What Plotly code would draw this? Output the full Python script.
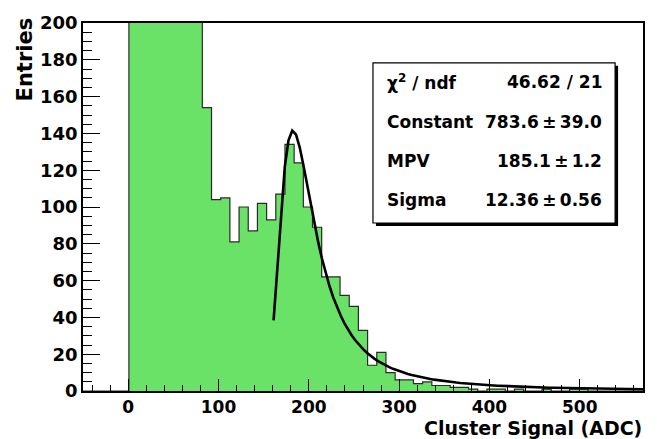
import numpy as np
import plotly.graph_objects as go

# ---- histogram data (61 bins from -50 to 570 ADC) ----
x_min, x_max, n_bins = -50.0, 570.0, 61
counts = [
    0, 0, 0, 0, 0,
    640, 1020, 990, 770, 550, 390, 280, 215,
    154, 104, 105, 81, 100, 87, 102, 93, 107, 134,
    124, 100, 89, 62, 62, 52, 46, 33, 14, 21,
    10, 6, 6, 4, 5, 3, 3, 2, 2, 1,
    0, 1, 1, 0, 1, 0, 0, 1, 0, 0,
    1, 1, 0, 0, 0, 0, 0, 0,
]

# ---- Landau fit result ----
chi2, ndf = 46.62, 21
constant, constant_err = 783.6, 39.0
mpv, mpv_err = 185.1, 1.2
sigma, sigma_err = 12.36, 0.56
fit_range = (161.0, 570.0)
fit_npx = 100

x_ticks = [0, 100, 200, 300, 400, 500]
y_ticks = [0, 20, 40, 60, 80, 100, 120, 140, 160, 180, 200]

FILL = "rgb(106,226,104)"
FONT = "DejaVu Sans"


def landau_density(lam):
    """Standard Landau density: (1/pi) * int_0^inf exp(-t ln t - lam t) sin(pi t) dt."""
    t = np.linspace(0.0, 40.0, 200001)
    tl = np.zeros_like(t)
    tl[1:] = t[1:] * np.log(t[1:])
    h = t[1] - t[0]
    w = np.ones_like(t)
    w[1:-1:2] = 4.0
    w[2:-1:2] = 2.0
    out = []
    for l in np.atleast_1d(lam):
        f = np.exp(-tl - l * t) * np.sin(np.pi * t)
        out.append(h / 3.0 * np.sum(w * f) / np.pi)
    return np.array(out)


bw = (x_max - x_min) / n_bins
edges = x_min + bw * np.arange(n_bins + 1)
centers = 0.5 * (edges[:-1] + edges[1:])

xf = np.linspace(fit_range[0], fit_range[1], fit_npx)
yf = constant * landau_density((xf - mpv) / sigma)

fig = go.Figure()
fig.add_trace(go.Bar(
    x=centers, y=counts, width=bw,
    marker=dict(color=FILL, line=dict(width=0)),
    hoverinfo="skip", showlegend=False,
))
fig.add_trace(go.Scatter(
    x=edges, y=list(counts) + [counts[-1]],
    mode="lines", line=dict(color="#2a2a2a", width=1.2, shape="hv"),
    hoverinfo="skip", showlegend=False,
))
fig.add_trace(go.Scatter(
    x=xf, y=yf, mode="lines",
    line=dict(color="black", width=2.6),
    hoverinfo="skip", showlegend=False,
))

W, H = 657, 439
ML, MR, MT, MB = 83, 12, 12, 48
PW, PH = W - ML - MR, H - MT - MB


def px(xp):
    return (xp - ML) / PW


def py(yp):
    return (H - MB - yp) / PH


tick_font = dict(family=FONT, size=17, color="black", weight="bold")

fig.update_layout(
    width=W, height=H,
    margin=dict(l=ML, r=MR, t=MT, b=MB, pad=0),
    paper_bgcolor="white", plot_bgcolor="white",
    bargap=0,
    xaxis=dict(
        range=[x_min, x_max], showgrid=False, zeroline=False,
        showline=True, linecolor="black", linewidth=1.5, mirror=True,
        ticks="inside", ticklen=12, tickwidth=1, tickcolor="black",
        tickvals=x_ticks, tickfont=tick_font,
        minor=dict(dtick=20, tick0=0, ticks="inside", ticklen=6,
                   tickcolor="black", tickwidth=1),
    ),
    yaxis=dict(
        range=[0, 200], showgrid=False, zeroline=False,
        showline=True, linecolor="black", linewidth=1.5, mirror=True,
        ticks="inside", ticklen=17, tickwidth=1, tickcolor="black",
        tickvals=y_ticks, tickfont=dict(family=FONT, size=18, color="black", weight="bold"),
        minor=dict(dtick=5, tick0=0, ticks="inside", ticklen=9,
                   tickcolor="black", tickwidth=1),
    ),
)

# axis titles, ROOT style (right/top aligned)
fig.add_annotation(
    text="Cluster Signal (ADC)", xref="paper", yref="paper",
    x=px(646), y=py(429), xanchor="right", yanchor="middle",
    showarrow=False, font=dict(family=FONT, size=19, color="black", weight="bold"),
)
fig.add_annotation(
    text="Entries", xref="paper", yref="paper",
    x=px(25), y=py(4), xanchor="center", yanchor="top", textangle=-90,
    showarrow=False, font=dict(family=FONT, size=21, color="black", weight="bold"),
)

# statistics box with drop shadow
bx0, by0, bx1, by1 = 374, 53, 617, 218
fig.add_shape(type="rect", xref="paper", yref="paper",
              x0=px(bx0 + 3), x1=px(bx1 + 3), y0=py(by1 + 3), y1=py(by0 + 3),
              fillcolor="black", line=dict(width=0), layer="above")
fig.add_shape(type="rect", xref="paper", yref="paper",
              x0=px(bx0), x1=px(bx1), y0=py(by1), y1=py(by0),
              fillcolor="white", line=dict(color="black", width=1.2), layer="above")

PM = "\u2009\u00b1\u2009"
rows = [
    ("\u03c7<sup>2</sup> / ndf", f"{chi2:.2f} / {ndf}"),
    ("Constant", f"{constant:.1f}{PM}{constant_err:.1f}"),
    ("MPV", f"{mpv:.1f}{PM}{mpv_err:.1f}"),
    ("Sigma", f"{sigma:.2f}{PM}{sigma_err:.2f}"),
]
row_y = [73, 114, 154, 194]
stat_font = dict(family=FONT, size=17, color="black", weight="bold")
for (label, value), yy in zip(rows, row_y):
    fig.add_annotation(text=label, xref="paper", yref="paper",
                       x=px(386), y=py(yy), xanchor="left", yanchor="middle",
                       showarrow=False, font=stat_font)
    fig.add_annotation(text=value, xref="paper", yref="paper",
                       x=px(606), y=py(yy), xanchor="right", yanchor="middle",
                       showarrow=False, font=stat_font)

fig.write_html("out.html")
